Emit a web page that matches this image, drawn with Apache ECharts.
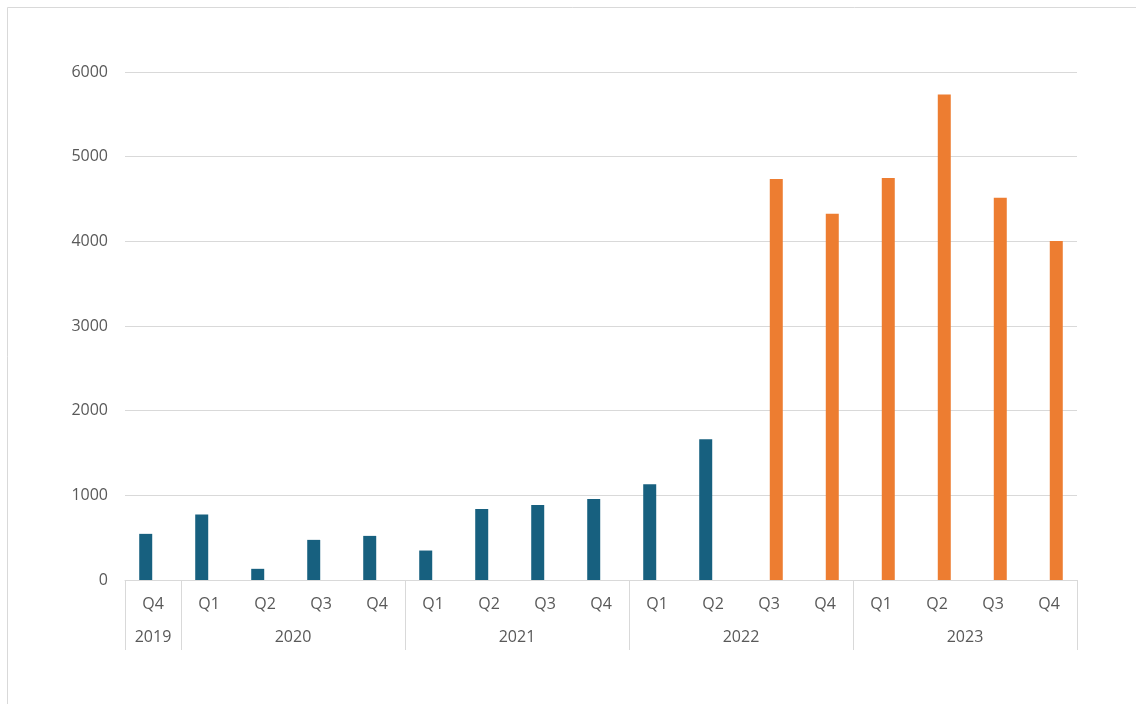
<!DOCTYPE html>
<html>
<head>
<meta charset="utf-8">
<script src="https://cdn.jsdelivr.net/npm/echarts@6/dist/echarts.min.js"></script>
<style>
  html, body { margin: 0; padding: 0; background: #ffffff; }
  #chart { width: 1136px; height: 704px; }
</style>
</head>
<body>
<div id="chart"></div>
<script>
// Quarterly values, Q4 2019 through Q4 2023
const quarters = ['Q4', 'Q1', 'Q2', 'Q3', 'Q4', 'Q1', 'Q2', 'Q3', 'Q4', 'Q1', 'Q2', 'Q3', 'Q4', 'Q1', 'Q2', 'Q3', 'Q4'];
const years = ['2019', '2020', '2021', '2022', '2023'];
const quartersPerYear = [1, 4, 4, 4, 4];
const earlierValues = [545, 773, 132, 474, 521, 348, 840, 887, 958, 1130, 1661, null, null, null, null, null, null];
const laterValues = [null, null, null, null, null, null, null, null, null, null, null, 4737, 4327, 4748, 5735, 4516, 4005];
const yMin = 0, yMax = 6000, yStep = 1000;

const FONT = '"Open Sans", "Liberation Sans", sans-serif';
const TEXT = '#595959';
const RULE = '#d9d9d9';

// Year groups as [startIndex, endIndex, yearIndex] on a 0..N value scale
const yearGroups = [];
let start = 0;
quartersPerYear.forEach((n, i) => {
  yearGroups.push([start, start + n, i]);
  start += n;
});

const chart = echarts.init(document.getElementById('chart'), null, { renderer: 'canvas' });

chart.setOption({
  animation: false,
  backgroundColor: '#ffffff',
  graphic: [{
    type: 'rect',
    shape: { x: 7.5, y: 7.5, width: 1300, height: 900 },
    style: { fill: 'none', stroke: RULE, lineWidth: 1 },
    silent: true
  }],
  grid: { left: 125, right: 59, top: 72, bottom: 124, containLabel: false },
  xAxis: [{
    type: 'category',
    data: quarters,
    axisTick: { show: false },
    axisLine: { lineStyle: { color: RULE, width: 1 } },
    axisLabel: { color: TEXT, fontFamily: FONT, fontSize: 16, margin: 16 },
    splitLine: { show: false }
  }, {
    type: 'value',
    min: 0,
    max: quarters.length,
    show: false
  }],
  yAxis: {
    type: 'value',
    min: yMin,
    max: yMax,
    interval: yStep,
    axisLine: { show: false },
    axisTick: { show: false },
    axisLabel: {
      color: TEXT, fontFamily: FONT, fontSize: 16, margin: 17,
      formatter: function (v) { return String(v); }
    },
    splitLine: { lineStyle: { color: RULE, width: 1 } }
  },
  series: [{
    type: 'bar',
    data: earlierValues,
    barWidth: 13,
    barGap: '12%',
    itemStyle: { color: '#17607f' }
  }, {
    type: 'bar',
    data: laterValues,
    barWidth: 13,
    barGap: '12%',
    itemStyle: { color: '#ed7d31' }
  }, {
    // second row of the category axis: year names and group dividers
    type: 'custom',
    xAxisIndex: 1,
    yAxisIndex: 0,
    silent: true,
    data: yearGroups,
    renderItem: function (params, api) {
      const s = api.value(0), e = api.value(1), idx = api.value(2);
      const p0 = api.coord([s, 0]);
      const p1 = api.coord([e, 0]);
      const x0 = Math.round(p0[0]) + 0.5;
      const x1 = Math.round(p1[0]) + 0.5;
      const y0 = Math.round(p0[1]);
      const children = [{
        type: 'text',
        style: {
          text: years[idx],
          x: (p0[0] + p1[0]) / 2,
          y: y0 + 57,
          align: 'center',
          verticalAlign: 'middle',
          fill: TEXT,
          font: '16px ' + FONT
        }
      }, {
        type: 'line',
        shape: { x1: x0, y1: y0, x2: x0, y2: y0 + 70 },
        style: { stroke: RULE, lineWidth: 1 }
      }];
      if (params.dataIndex === yearGroups.length - 1) {
        children.push({
          type: 'line',
          shape: { x1: x1, y1: y0, x2: x1, y2: y0 + 70 },
          style: { stroke: RULE, lineWidth: 1 }
        });
      }
      return { type: 'group', children: children };
    }
  }]
});
</script>
</body>
</html>
